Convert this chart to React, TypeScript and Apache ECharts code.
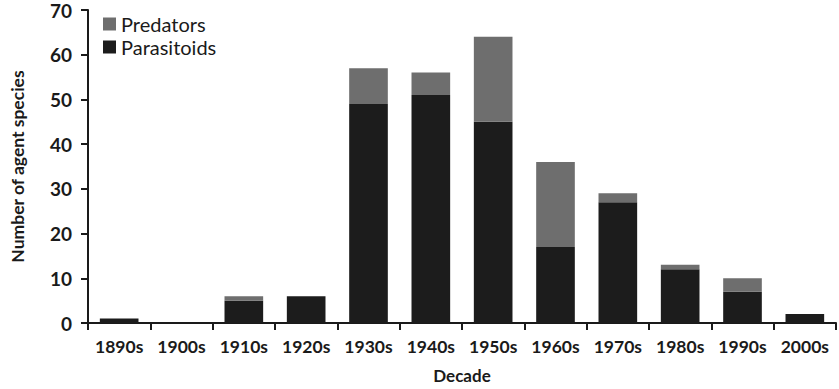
import React, { useEffect, useRef } from "react";
import * as echarts from "echarts";

const decades = ["1890s", "1900s", "1910s", "1920s", "1930s", "1940s", "1950s", "1960s", "1970s", "1980s", "1990s", "2000s"];
const parasitoids = [1, 0, 5, 6, 49, 51, 45, 17, 27, 12, 7, 2];
const predators = [0, 0, 1, 0, 8, 5, 19, 19, 2, 1, 3, 0];
const yTicks = [0, 10, 20, 30, 40, 50, 60, 70];

const FONT = "Lato";

export default function App() {
  const ref = useRef<HTMLDivElement>(null);
  useEffect(() => {
    const chart = echarts.init(ref.current!, null, { renderer: "svg" });
    chart.setOption({
      animation: false,
      backgroundColor: "#ffffff",
      textStyle: { fontFamily: FONT },
      grid: { left: 78, right: 3, top: 10, bottom: 66 },
      legend: {
        data: ["Predators", "Parasitoids"],
        orient: "vertical",
        left: 98,
        top: 9,
        itemWidth: 13,
        itemHeight: 13,
        itemGap: 3,
        icon: "rect",
        textStyle: { fontFamily: FONT, fontSize: 20, color: "#1a1a1a" },
      },
      xAxis: {
        type: "category",
        data: decades,
        name: "Decade",
        nameLocation: "middle",
        nameGap: 44,
        nameTextStyle: { fontFamily: FONT, fontSize: 17, color: "#1a1a1a", fontWeight: "bold" },
        axisLine: { lineStyle: { color: "#1a1a1a", width: 2 } },
        axisTick: { show: true, length: 7, lineStyle: { color: "#1a1a1a", width: 2 } },
        axisLabel: { interval: 0, fontFamily: FONT, fontSize: 17.5, color: "#1a1a1a", fontWeight: "bold", margin: 14 },
      },
      yAxis: {
        type: "value",
        min: 0,
        max: 70,
        interval: 10,
        name: "Number of agent species",
        nameLocation: "middle",
        nameGap: 62,
        nameTextStyle: { fontFamily: FONT, fontSize: 17.5, color: "#1a1a1a", fontWeight: "bold" },
        axisLine: { show: true, lineStyle: { color: "#1a1a1a", width: 2 } },
        axisTick: { show: true, length: 7, lineStyle: { color: "#1a1a1a", width: 2 } },
        splitLine: { show: false },
        axisLabel: {
          fontFamily: FONT,
          fontSize: 19,
          color: "#1a1a1a",
          fontWeight: "bold",
          margin: 16,
          formatter: (v: number) => (yTicks.includes(v) ? String(v) : ""),
        },
      },
      series: [
        {
          name: "Parasitoids",
          type: "bar",
          stack: "total",
          data: parasitoids,
          barCategoryGap: "38%",
          itemStyle: { color: "#1c1c1c" },
        },
        {
          name: "Predators",
          type: "bar",
          stack: "total",
          data: predators,
          barCategoryGap: "38%",
          itemStyle: { color: "#6e6e6e" },
        },
      ],
    });
    return () => chart.dispose();
  }, []);
  return <div ref={ref} style={{ width: 839, height: 389, position: "absolute", left: 0, top: 0 }} />;
}
